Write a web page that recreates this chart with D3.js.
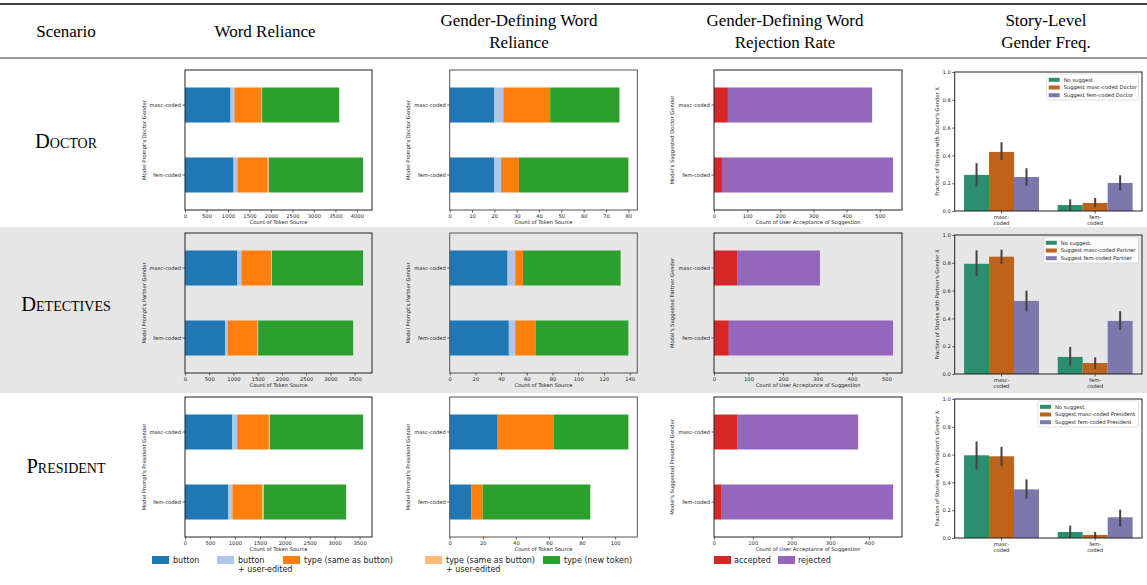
<!DOCTYPE html>
<html><head><meta charset="utf-8">
<script src="https://cdn.jsdelivr.net/npm/d3@7"></script>
<style>body{margin:0;background:#fff}svg text{font-family:"DejaVu Sans",sans-serif}</style>
</head><body><svg id="c" width="1147" height="585"></svg>
<script>
// ---------------- DATA ----------------
const scenarios = ["Doctor", "Detectives", "President"];
const roles = ["Doctor", "Partner", "President"];
const genders = ["masc-coded", "fem-coded"];
const headers = [["Scenario"], ["Word Reliance"], ["Gender-Defining Word", "Reliance"], ["Gender-Defining Word", "Rejection Rate"], ["Story-Level", "Gender Freq."]];
const sourceLabels = ["button", "button\n+ user-edited", "type (same as button)", "type (same as button)\n+ user-edited", "type (new token)"];
const rejLabels = ["accepted", "rejected"];
const storyHueLabels = ["No suggest.", "Suggest masc-coded ", "Suggest fem-coded "];
const storyCatLabels = ["masc-\ncoded", "fem-\ncoded"];

// Word reliance counts: [masc, fem] x [button, button+edit, type same, type same+edit, new token]
const wordDoctor = [[1060, 90, 620, 25, 1795], [1130, 90, 690, 40, 2195]];
const wordDetectives = [[1080, 85, 610, 20, 1880], [825, 55, 610, 20, 1960]];
const wordPresident = [[950, 95, 635, 20, 1870], [870, 80, 595, 35, 1650]];
const wordTicksDoctor = [0, 500, 1000, 1500, 2000, 2500, 3000, 3500, 4000];
const wordTicksDetectives = [0, 500, 1000, 1500, 2000, 2500, 3000, 3500];
const wordTicksPresident = [0, 500, 1000, 1500, 2000, 2500, 3000, 3500];

// Gender-defining word reliance counts
const gdDoctor = [[20, 4, 21, 0, 31], [20, 3, 8, 0, 49]];
const gdDetectives = [[45, 6, 6, 0, 76], [46, 5, 16, 0, 72]];
const gdPresident = [[29, 0, 34, 0, 45], [13, 0, 7, 0, 65]];
const gdTicksDoctor = [0, 10, 20, 30, 40, 50, 60, 70, 80];
const gdTicksDetectives = [0, 20, 40, 60, 80, 100, 120, 140];
const gdTicksPresident = [0, 20, 40, 60, 80, 100];

// Rejection: [accepted, rejected]
const rejDoctor = [[42, 435], [24, 516]];
const rejDetectives = [[67, 240], [43, 476]];
const rejPresident = [[61, 311], [20, 442]];
const rejTicksDoctor = [0, 100, 200, 300, 400, 500];
const rejTicksDetectives = [0, 100, 200, 300, 400, 500];
const rejTicksPresident = [0, 100, 200, 300, 400];

// Story-level fractions: [masc, fem] x [no suggest, suggest masc, suggest fem]
const storyDoctorMean = [[0.26, 0.425, 0.245], [0.043, 0.058, 0.202]];
const storyDoctorLo = [[0.175, 0.368, 0.18], [0.0, 0.026, 0.147]];
const storyDoctorHi = [[0.344, 0.495, 0.308], [0.084, 0.094, 0.257]];
const storyDetectivesMean = [[0.793, 0.844, 0.526], [0.123, 0.079, 0.382]];
const storyDetectivesLo = [[0.707, 0.791, 0.45], [0.06, 0.036, 0.317]];
const storyDetectivesHi = [[0.889, 0.894, 0.599], [0.195, 0.12, 0.452]];
const storyPresidentMean = [[0.595, 0.588, 0.35], [0.043, 0.022, 0.149]];
const storyPresidentLo = [[0.494, 0.516, 0.283], [0.0, 0.0, 0.082]];
const storyPresidentHi = [[0.695, 0.655, 0.422], [0.089, 0.043, 0.204]];
const storyTicks = [0, 0.2, 0.4, 0.6, 0.8, 1.0];

// ---------------- STYLE ----------------
const sourceColors = ["#1f77b4", "#aec7e8", "#ff7f0e", "#ffbb78", "#2ca02c"];
const rejColors = ["#d62728", "#9467bd"];
const storyColors = ["#2b8e70", "#be631d", "#7c78ab"];
const FS = 5.2;

const words = [wordDoctor, wordDetectives, wordPresident];
const wordTicks = [wordTicksDoctor, wordTicksDetectives, wordTicksPresident];
const gds = [gdDoctor, gdDetectives, gdPresident];
const gdTicks = [gdTicksDoctor, gdTicksDetectives, gdTicksPresident];
const rejs = [rejDoctor, rejDetectives, rejPresident];
const rejTicks = [rejTicksDoctor, rejTicksDetectives, rejTicksPresident];
const sMean = [storyDoctorMean, storyDetectivesMean, storyPresidentMean];
const sLo = [storyDoctorLo, storyDetectivesLo, storyPresidentLo];
const sHi = [storyDoctorHi, storyDetectivesHi, storyPresidentHi];

const svg = d3.select("#c");

// Table structure
svg.append("rect").attr("x", 0).attr("y", 227).attr("width", 1147).attr("height", 166).attr("fill", "#e6e6e6");
svg.append("line").attr("x1", 0).attr("x2", 1147).attr("y1", 4).attr("y2", 4).attr("stroke", "#000").attr("stroke-width", 1.4);
svg.append("line").attr("x1", 0).attr("x2", 1147).attr("y1", 58).attr("y2", 58).attr("stroke", "#000").attr("stroke-width", 0.8);

const headerX = [66, 265, 519, 785, 1046];
headers.forEach((h, i) => {
  const t = svg.append("text").attr("text-anchor", "middle")
    .style("font-family", "'Liberation Serif',serif").style("font-size", "17px").attr("fill", "#000");
  if (h.length === 1) t.append("tspan").attr("x", headerX[i]).attr("y", 37).text(h[0]);
  else h.forEach((s, k) => t.append("tspan").attr("x", headerX[i]).attr("y", 26 + k * 22).text(s));
});
const rowLabelY = [148, 311, 473];
scenarios.forEach((s, i) => {
  svg.append("text").attr("x", 66).attr("y", rowLabelY[i]).attr("text-anchor", "middle")
    .style("font-family", "'Liberation Serif',serif").style("font-size", "20.5px")
    .style("font-variant", "small-caps").text(s);
});

const rowTop = [70, 233, 397];
const storyTop = [72, 235, 399];
const cols = { word: [185, 372], gd: [449.7, 637.3], rej: [714, 902], story: [954.7, 1142] };

function styleAxis(g) {
  g.selectAll("text").style("font-size", FS + "px").style("font-family", "'DejaVu Sans',sans-serif").attr("fill", "#222");
  g.selectAll("line").attr("stroke", "#222").attr("stroke-width", 0.7);
  g.select(".domain").remove();
}

function frame(l, t, w, h, color) {
  svg.append("rect").attr("x", l).attr("y", t).attr("width", w).attr("height", h)
    .attr("fill", "none").attr("stroke", color || "#222").attr("stroke-width", 1);
}

function ylabel(text, x, cy) {
  svg.append("text").attr("transform", `translate(${x},${cy}) rotate(-90)`).attr("text-anchor", "middle")
    .style("font-size", FS + "px").attr("fill", "#222").text(text);
}

function hbar(data, keysColors, ticks, xr, top, ylab, ylabX, xlab, frameColor) {
  const h = 140, bottom = top + h;
  const totals = data.map(r => d3.sum(r));
  const x = d3.scaleLinear().domain([0, d3.max(totals) * 1.05]).range(xr);
  const y = d3.scaleBand().domain(genders).range([top, bottom]).paddingInner(0.5).paddingOuter(0.25);
  const rows = genders.map((g, i) => { const o = { gender: g }; data[i].forEach((v, k) => o["k" + k] = v); return o; });
  const keys = data[0].map((_, k) => "k" + k);
  const series = d3.stack().keys(keys)(rows);
  svg.append("g").selectAll("g").data(series).join("g").attr("fill", (d, k) => keysColors[k])
    .selectAll("rect").data(d => d).join("rect")
    .attr("x", d => x(d[0])).attr("width", d => Math.max(0, x(d[1]) - x(d[0])))
    .attr("y", d => y(d.data.gender)).attr("height", y.bandwidth());
  frame(xr[0], top, xr[1] - xr[0], h, frameColor);
  const gx = svg.append("g").attr("transform", `translate(0,${bottom})`)
    .call(d3.axisBottom(x).tickValues(ticks).tickFormat(d3.format("d")).tickSize(2.5).tickPadding(1.5));
  styleAxis(gx);
  const gy = svg.append("g").attr("transform", `translate(${xr[0]},0)`)
    .call(d3.axisLeft(y).tickSize(2.5).tickPadding(1.5));
  styleAxis(gy);
  ylabel(ylab, ylabX, top + h / 2);
  svg.append("text").attr("x", (xr[0] + xr[1]) / 2).attr("y", bottom + 14).attr("text-anchor", "middle")
    .style("font-size", FS + "px").attr("fill", "#222").text(xlab);
}

function story(mean, lo, hi, top, role) {
  const [l, r] = cols.story, h = 139, bottom = top + h;
  const y = d3.scaleLinear().domain([0, 1]).range([bottom, top]);
  const x0 = d3.scaleBand().domain(genders).range([l, r]).paddingInner(0.2).paddingOuter(0.1);
  const x1 = d3.scaleBand().domain([0, 1, 2]).range([0, x0.bandwidth()]);
  genders.forEach((g, i) => {
    [0, 1, 2].forEach(j => {
      svg.append("rect").attr("x", x0(g) + x1(j)).attr("width", x1.bandwidth())
        .attr("y", y(mean[i][j])).attr("height", y(0) - y(mean[i][j])).attr("fill", storyColors[j]);
    });
  });
  genders.forEach((g, i) => {
    [0, 1, 2].forEach(j => {
      const cx = x0(g) + x1(j) + x1.bandwidth() / 2;
      svg.append("line").attr("x1", cx).attr("x2", cx).attr("y1", y(lo[i][j])).attr("y2", y(hi[i][j]))
        .attr("stroke", "#424242").attr("stroke-width", 2);
    });
  });
  frame(l, top, r - l, h);
  const gy = svg.append("g").attr("transform", `translate(${l},0)`)
    .call(d3.axisLeft(y).tickValues(storyTicks).tickFormat(d3.format(".1f")).tickSize(2.5).tickPadding(1.5));
  styleAxis(gy);
  const gx = svg.append("g").attr("transform", `translate(0,${bottom})`)
    .call(d3.axisBottom(x0).tickSize(2.5).tickPadding(1.5).tickFormat(() => ""));
  styleAxis(gx);
  genders.forEach((g, i) => {
    const t = svg.append("text").attr("text-anchor", "middle").style("font-size", FS + "px").attr("fill", "#222");
    storyCatLabels[i].split("\n").forEach((s, k) => t.append("tspan").attr("x", x0(g) + x0.bandwidth() / 2).attr("y", bottom + 7.5 + k * 6.5).text(s));
  });
  ylabel(`Fraction of Stories with ${role}'s Gender X`, 938.5, top + h / 2);
  // legend
  const labels = storyHueLabels.map((s, j) => j === 0 ? s : s + role);
  const lg = svg.append("g");
  const tw = d3.max(labels, s => s.length) * FS * 0.56;
  const boxW = 19 + tw, boxR = r - 3.5, boxL = boxR - boxW;
  lg.append("rect").attr("x", boxL).attr("y", top + 2).attr("width", boxW).attr("height", 26)
    .attr("rx", 1.5).attr("fill", "#fff").attr("fill-opacity", 0.85).attr("stroke", "#ccc").attr("stroke-width", 0.6);
  labels.forEach((s, j) => {
    const yy = top + 7.8 + j * 7.7;
    lg.append("rect").attr("x", boxL + 2).attr("y", yy - 2).attr("width", 11).attr("height", 4).attr("fill", storyColors[j]);
    lg.append("text").attr("x", boxL + 17).attr("y", yy + 1.8).style("font-size", FS + "px").attr("fill", "#222").text(s);
  });
}

scenarios.forEach((s, i) => {
  hbar(words[i], sourceColors, wordTicks[i], cols.word, rowTop[i], `Model Prompt's ${roles[i]} Gender`, 145.5, "Count of Token Source");
  hbar(gds[i], sourceColors, gdTicks[i], cols.gd, rowTop[i], `Model Prompt's ${roles[i]} Gender`, 409.5, "Count of Token Source", "#555");
  hbar(rejs[i], rejColors, rejTicks[i], cols.rej, rowTop[i], `Model's Suggested ${roles[i]} Gender`, 673.5, "Count of User Acceptance of Suggestion");
  story(sMean[i], sLo[i], sHi[i], storyTop[i], roles[i]);
});

// Bottom legends
const legX = [152, 217, 283, 425, 543];
sourceLabels.forEach((s, k) => {
  svg.append("rect").attr("x", legX[k]).attr("y", 556).attr("width", 17).attr("height", 8).attr("fill", sourceColors[k]);
  const t = svg.append("text").style("font-size", "8px").attr("fill", "#222");
  s.split("\n").forEach((line, m) => t.append("tspan").attr("x", legX[k] + 21).attr("y", 563 + m * 9).text(line));
});
const rejLegX = [714, 778];
rejLabels.forEach((s, k) => {
  svg.append("rect").attr("x", rejLegX[k]).attr("y", 556).attr("width", 17).attr("height", 8).attr("fill", rejColors[k]);
  svg.append("text").attr("x", rejLegX[k] + 20).attr("y", 563).style("font-size", "8px").attr("fill", "#222").text(s);
});
</script></body></html>
